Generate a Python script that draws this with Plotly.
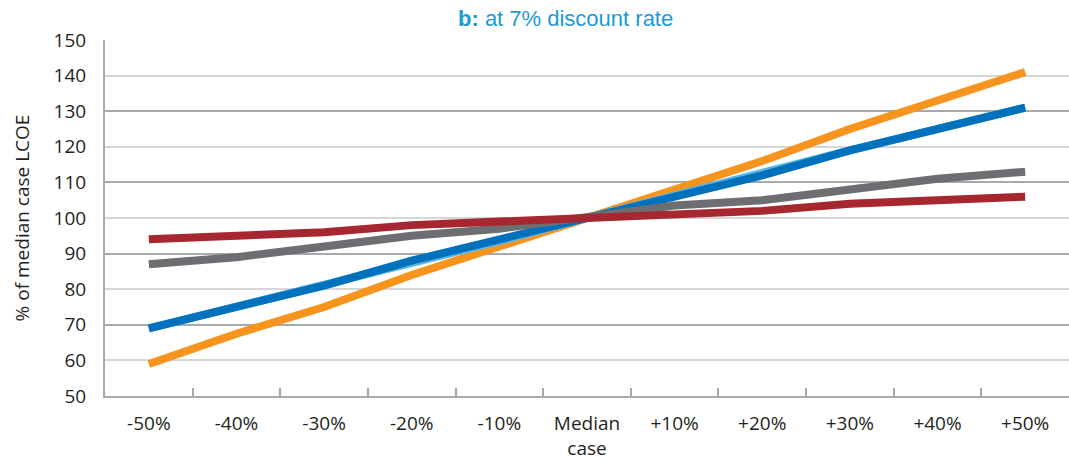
import plotly.graph_objects as go

# Sensitivity categories along the x axis
categories = ["-50%", "-40%", "-30%", "-20%", "-10%", "Median<br>case",
              "+10%", "+20%", "+30%", "+40%", "+50%"]

# % of median case LCOE for each varied parameter
orange_vals = [59, 67.5, 75, 84, 92, 100, 108, 116, 125, 133, 141]
lightblue_vals = [69, 75, 81, 87.5, 93.5, 100, 106.5, 113, 119, 125, 131]
blue_vals = [69, 75, 81, 88, 94, 100, 106, 112, 119, 125, 131]
grey_vals = [87, 89, 92, 95, 97, 100, 103.5, 105, 108, 111, 113]
red_vals = [94, 95, 96, 98, 99, 100, 101, 102, 104, 105, 106]

y_ticks = [50, 60, 70, 80, 90, 100, 110, 120, 130, 140, 150]

series = [
    (orange_vals, "#f7941d"),
    (lightblue_vals, "#5ab4e5"),
    (blue_vals, "#0071bc"),
    (grey_vals, "#6d6e71"),
    (red_vals, "#a6272f"),
]

fig = go.Figure()
for vals, color in series:
    fig.add_trace(go.Scatter(
        x=categories, y=vals, mode="lines",
        line=dict(color=color, width=8),
        showlegend=False, hoverinfo="skip",
    ))

# Darker gridlines every 20 drawn through a second, label-free axis
fig.add_trace(go.Scatter(x=[categories[0]], y=[None], yaxis="y2",
                         showlegend=False, hoverinfo="skip"))

tick_font = dict(family="Open Sans", size=19, color="#231f20")

fig.update_layout(
    width=1069, height=461,
    margin=dict(l=105, r=0, t=40, b=65),
    paper_bgcolor="white", plot_bgcolor="white",
    xaxis=dict(
        type="category", categoryorder="array", categoryarray=categories,
        range=[-0.5, len(categories) - 0.5],
        tickson="boundaries", ticks="inside", ticklen=8, tickwidth=2,
        tickcolor="#a7a9ac", showgrid=False, automargin=False,
        showline=True, linecolor="#a7a9ac", linewidth=2,
        tickfont=tick_font, ticklabelstandoff=9,
    ),
    yaxis=dict(
        range=[50, 150], tickvals=y_ticks, ticktext=[str(v) for v in y_ticks],
        showgrid=True, gridcolor="#d6d6d8", gridwidth=2, automargin=False,
        showline=True, linecolor="#a7a9ac", linewidth=2,
        zeroline=False, ticks="", tickfont=tick_font, ticklabelstandoff=13,
        title=dict(text="% of median case LCOE",
                   font=dict(family="Open Sans", size=19, color="#231f20"),
                   standoff=19),
    ),
    yaxis2=dict(
        overlaying="y", range=[50, 150], tick0=50, dtick=20,
        showgrid=True, gridcolor="#a7a9ac", gridwidth=2, automargin=False,
        showticklabels=False, zeroline=False, showline=False,
    ),
)

fig.add_annotation(
    text="<b>b:</b> at 7% discount rate",
    xref="paper", yref="paper", x=0.478, y=1.0, yshift=22,
    xanchor="center", yanchor="middle", showarrow=False,
    font=dict(family="Liberation Sans", size=22, color="#1b9ad6"),
)

fig.write_html("out.html")
